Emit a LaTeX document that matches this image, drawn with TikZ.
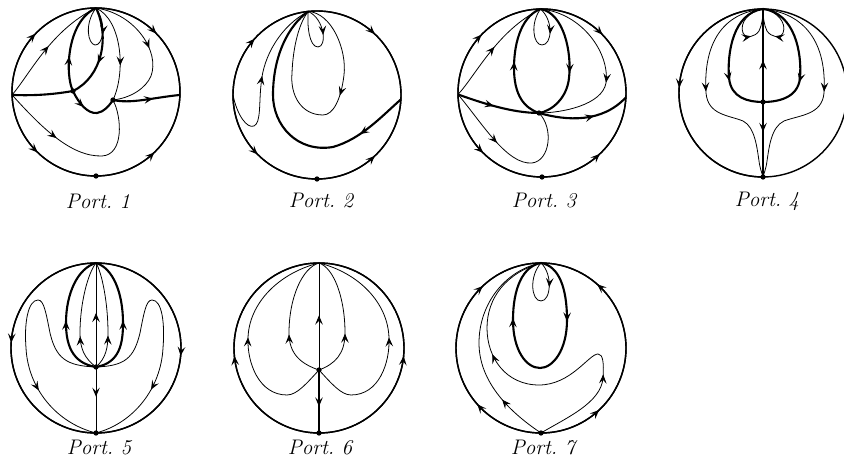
\documentclass[tikz,border=0pt]{standalone}
\usetikzlibrary{arrows.meta,decorations.markings}
\begin{document}
\begin{tikzpicture}[
  x=0.02cm, y=0.02cm,
  line join=round,
  bnd/.style={line width=0.8pt},
  orb/.style={line width=0.45pt},
  sep/.style={line width=1.2pt},
  flow/.style={postaction={decorate,decoration={markings,
    mark=at position #1 with {\arrow{Stealth[length=5.2pt,width=4.3pt,inset=2.1pt]}}}}},
  lbl/.style={font=\fontsize{12}{14}\selectfont\itshape},
]
\useasboundingbox (0,0) rectangle (844,465);

% ── the discs and the labels ──────────────────────────────────────────────
\foreach \cx/\cy/\r in {96/373/84, 317/370/84, 542/372/84, 763/372/84,
                        96/117/85, 319/117/85, 541/117/85}
  { \draw[bnd] (\cx,\cy) circle[radius=\r]; }
\foreach \n/\lx/\ly in {1/98/264, 2/321/264, 3/544/264, 4/767/264,
                        5/99/17, 6/320/17, 7/543/17}
  { \node[lbl] (L\n) at (\lx,\ly) {Port.\ \n}; }

% ── Port. 1 ───────────────────────────────────────────────────────────────
\begin{scope}[shift={(96,373)}]
  \coordinate (N1) at (90:84);  \coordinate (S1) at (270:84);
  \coordinate (W1) at (182:84); \coordinate (E1) at (-2:84);
  \coordinate (A1) at (-23,1);  \coordinate (B1) at (17,-8);
  \draw[bnd,flow=0.5] (W1) arc[start angle=182,end angle=90,radius=84];
  \draw[bnd,flow=0.5] (N1) arc[start angle=90,end angle=-2,radius=84];
  \draw[bnd,flow=0.5] (W1) arc[start angle=182,end angle=270,radius=84];
  \draw[bnd,flow=0.5] (S1) arc[start angle=270,end angle=358,radius=84];
  \draw[orb,flow=0.33] (N1) .. controls (12,66) and (6,46) .. (-1,47) .. controls (-8,48) and (-12,68) .. (N1);
  \draw[sep,flow=0.38] (A1) .. controls (-31,16) and (-30,70) .. (N1);
  \draw[sep,flow=0.35] (A1) .. controls (-17,-12) and (-8,-22) .. (1,-21) .. controls (8,-20) and (13,-14) .. (B1);
  \draw[sep] (W1) .. controls (-60,-4) and (-40,-2) .. (A1);
  \draw[sep,flow=0.6] (N1) .. controls (14,55) and (6,15) .. (A1);
  \draw[orb,flow=0.65] (N1) .. controls (26,72) and (30,20) .. (B1);
  \draw[orb,flow=0.48] (N1) .. controls (40,78) and (64,40) .. (55,16) .. controls (50,4) and (35,-6) .. (B1);
  \draw[sep,flow=0.6] (B1) .. controls (35,-12) and (55,-6) .. (E1);
  \draw[orb,flow=0.5] (W1) .. controls (-66,18) and (-45,62) .. (N1);
  \draw[orb,flow=0.35] (W1) .. controls (-55,-35) and (-25,-65) .. (6,-64) .. controls (28,-63) and (26,-25) .. (B1);
  \foreach \p in {A1,B1,S1} { \fill (\p) circle[radius=1.5pt]; }
\end{scope}

% ── Port. 2 ───────────────────────────────────────────────────────────────
\begin{scope}[shift={(317,370)}]
  \coordinate (N2) at (96:84);  \coordinate (S2) at (270:84);
  \coordinate (W2) at (180:84); \coordinate (E2) at (-3:84);
  \draw[bnd,flow=0.5] (W2) arc[start angle=180,end angle=96,radius=84];
  \draw[bnd,flow=0.5] (N2) arc[start angle=96,end angle=-3,radius=84];
  \draw[bnd,flow=0.5] (W2) arc[start angle=180,end angle=270,radius=84];
  \draw[bnd,flow=0.5] (S2) arc[start angle=270,end angle=357,radius=84];
  \draw[orb,flow=0.35] (N2) .. controls (8,76) and (10,48) .. (1,48) .. controls (-8,48) and (-10,70) .. (N2);
  \draw[orb,flow=0.4] (N2) .. controls (15,82) and (30,45) .. (27,20) .. controls (24,-5) and (16,-20) .. (6,-20)
    .. controls (-16,-20) and (-27,0) .. (-25,22) .. controls (-24,48) and (-18,72) .. (N2);
  \draw[sep,flow=0.2] (E2) .. controls (64,-22) and (44,-44) .. (16,-52) .. controls (-20,-58) and (-44,-30) .. (-44,0)
    .. controls (-44,40) and (-28,70) .. (N2);
  \draw[orb,flow=0.53] (W2) .. controls (-80,-20) and (-70,-34) .. (-63,-31) .. controls (-56,-28) and (-58,-8) .. (-56,10)
    .. controls (-54,40) and (-35,70) .. (N2);
  \fill (S2) circle[radius=1.5pt];
\end{scope}

% ── Port. 3 ───────────────────────────────────────────────────────────────
\begin{scope}[shift={(542,372)}]
  \coordinate (N3) at (91:84);  \coordinate (S3) at (270:84);
  \coordinate (W3) at (181:84); \coordinate (E3) at (-3:84);
  \coordinate (P3) at (-3,-20);
  \draw[bnd,flow=0.5] (W3) arc[start angle=181,end angle=91,radius=84];
  \draw[bnd,flow=0.5] (N3) arc[start angle=91,end angle=-3,radius=84];
  \draw[bnd,flow=0.5] (W3) arc[start angle=181,end angle=270,radius=84];
  \draw[bnd,flow=0.5] (S3) arc[start angle=270,end angle=357,radius=84];
  \draw[orb,flow=0.33] (N3) .. controls (12,72) and (10,48) .. (0,48) .. controls (-9,48) and (-12,70) .. (N3);
  \draw[sep,flow=0.58] (N3) .. controls (22,80) and (30,40) .. (27,15) .. controls (25,-5) and (10,-18) .. (P3);
  \draw[sep,flow=0.5] (P3) .. controls (-18,-15) and (-28,-2) .. (-28,25) .. controls (-28,55) and (-18,78) .. (N3);
  \draw[sep,flow=0.45] (W3) .. controls (-60,-10) and (-30,-20) .. (P3);
  \draw[sep,flow=0.6] (P3) .. controls (25,-28) and (60,-30) .. (E3);
  \draw[orb,flow=0.5] (W3) .. controls (-66,18) and (-45,62) .. (N3);
  \draw[orb,flow=0.58] (N3) .. controls (40,80) and (68,40) .. (64,10) .. controls (60,-12) and (20,-20) .. (P3);
  \draw[orb,flow=0.38] (W3) .. controls (-60,-30) and (-35,-72) .. (-10,-70) .. controls (8,-68) and (12,-35) .. (P3);
  \foreach \p in {P3,S3} { \fill (\p) circle[radius=1.5pt]; }
\end{scope}

% ── Port. 4 ───────────────────────────────────────────────────────────────
\begin{scope}[shift={(763,372)}]
  \coordinate (N4) at (90:84);  \coordinate (S4) at (270:84);
  \coordinate (M4) at (0,-9);
  \draw[bnd,flow=0.48] (N4) arc[start angle=90,end angle=270,radius=84];
  \draw[sep,flow=0.45] (M4) -- (N4);
  \draw[sep,flow=0.4] (M4) -- (S4);
  \draw[sep,flow=0.67] (N4) .. controls (-30,80) and (-36,40) .. (-34,15) .. controls (-32,-5) and (-15,-9) .. (M4);
  \draw[sep,flow=0.67] (N4) .. controls (32,80) and (39,40) .. (37,15) .. controls (35,-5) and (15,-9) .. (M4);
  \draw[orb,flow=0.58] (N4) .. controls (-14,82) and (-24,70) .. (-20,60) .. controls (-17,54) and (-8,56) .. (-4,62)
    .. controls (-1,68) and (0,76) .. (N4);
  \draw[orb,flow=0.58] (N4) .. controls (14,82) and (24,70) .. (20,60) .. controls (17,54) and (8,56) .. (4,62)
    .. controls (1,68) and (0,76) .. (N4);
  \draw[orb,flow=0.5] (N4) .. controls (-40,80) and (-60,50) .. (-57,0) .. controls (-55,-22) and (-35,-22) .. (-20,-28)
    .. controls (-8,-34) and (-6,-55) .. (-4,-68) .. controls (-3,-76) and (-1,-80) .. (S4);
  \draw[orb,flow=0.5] (N4) .. controls (42,80) and (64,50) .. (61,0) .. controls (59,-22) and (37,-22) .. (21,-28)
    .. controls (8,-34) and (6,-55) .. (4,-68) .. controls (3,-76) and (1,-80) .. (S4);
  \foreach \p in {M4,S4} { \fill (\p) circle[radius=1.5pt]; }
\end{scope}

% ── Port. 5 ───────────────────────────────────────────────────────────────
\begin{scope}[shift={(96,117)}]
  \coordinate (N5) at (90:85);  \coordinate (S5) at (270:85);
  \coordinate (M5) at (0,-19);
  \draw[bnd,flow=0.48] (N5) arc[start angle=90,end angle=270,radius=85];
  \draw[bnd,flow=0.53] (N5) arc[start angle=90,end angle=-90,radius=85];
  \draw[orb,flow=0.52] (M5) -- (N5);
  \draw[orb,flow=0.45] (M5) -- (S5);
  \draw[sep,flow=0.47] (M5) .. controls (-25,-15) and (-30,5) .. (-30,25) .. controls (-30,55) and (-18,80) .. (N5);
  \draw[sep,flow=0.47] (M5) .. controls (24,-15) and (27,5) .. (27,25) .. controls (27,55) and (17,80) .. (N5);
  \draw[orb,flow=0.32] (M5) .. controls (-12,-10) and (-16,0) .. (-16,15) .. controls (-16,45) and (-8,75) .. (N5);
  \draw[orb,flow=0.32] (M5) .. controls (10,-10) and (12,0) .. (12,15) .. controls (12,45) and (6,75) .. (N5);
  \draw[orb,flow=0.73] (M5) .. controls (-30,-18) and (-40,-10) .. (-46,15) .. controls (-50,35) and (-52,48) .. (-58,48)
    .. controls (-68,48) and (-72,25) .. (-70,0) .. controls (-68,-40) and (-40,-75) .. (S5);
  \draw[orb,flow=0.73] (M5) .. controls (29,-18) and (38,-10) .. (44,15) .. controls (48,35) and (50,48) .. (56,48)
    .. controls (66,48) and (69,25) .. (67,0) .. controls (65,-40) and (38,-75) .. (S5);
  \foreach \p in {M5,S5} { \fill (\p) circle[radius=1.5pt]; }
\end{scope}

% ── Port. 6 ───────────────────────────────────────────────────────────────
\begin{scope}[shift={(319,117)}]
  \coordinate (N6) at (90:85);  \coordinate (S6) at (270:85);
  \coordinate (M6) at (0,-22);
  \draw[bnd,flow=0.47] (S6) arc[start angle=270,end angle=90,radius=85];
  \draw[bnd,flow=0.47] (S6) arc[start angle=-90,end angle=90,radius=85];
  \draw[orb,flow=0.51] (M6) -- (N6);
  \draw[sep,flow=0.58] (M6) -- (S6);
  \draw[orb,flow=0.38] (M6) .. controls (-18,-16) and (-30,-6) .. (-30,15) .. controls (-30,50) and (-17,80) .. (N6);
  \draw[orb,flow=0.38] (M6) .. controls (16,-16) and (26,-6) .. (26,15) .. controls (26,50) and (15,80) .. (N6);
  \draw[orb,flow=0.52] (M6) .. controls (-12,-35) and (-22,-47) .. (-32,-47) .. controls (-60,-47) and (-72,-15) .. (-71,10)
    .. controls (-70,45) and (-40,75) .. (N6);
  \draw[orb,flow=0.52] (M6) .. controls (12,-35) and (22,-47) .. (32,-47) .. controls (60,-47) and (71,-15) .. (70,10)
    .. controls (69,45) and (40,75) .. (N6);
  \foreach \p in {M6,S6} { \fill (\p) circle[radius=1.5pt]; }
\end{scope}

% ── Port. 7 ───────────────────────────────────────────────────────────────
\begin{scope}[shift={(541,117)}]
  \coordinate (N7) at (90:85);  \coordinate (S7) at (270:85);
  \draw[bnd,flow=0.27,flow=0.76] (S7) arc[start angle=270,end angle=90,radius=85];
  \draw[bnd,flow=0.24,flow=0.77] (S7) arc[start angle=-90,end angle=90,radius=85];
  \draw[orb,flow=0.3] (N7) .. controls (12,74) and (10,47) .. (0,47) .. controls (-10,47) and (-12,72) .. (N7);
  \draw[sep,flow=0.27,flow=0.74] (N7) .. controls (18,82) and (26,60) .. (26,28) .. controls (26,-2) and (12,-20) .. (-1,-20)
    .. controls (-15,-20) and (-28,-2) .. (-28,28) .. controls (-28,60) and (-18,82) .. (N7);
  \draw[orb,flow=0.25,flow=0.67] (S7) .. controls (25,-70) and (60,-55) .. (62,-30) .. controls (63,-15) and (62,-6) .. (57,-6)
    .. controls (48,-6) and (30,-37) .. (-2,-37) .. controls (-35,-37) and (-54,-10) .. (-54,20)
    .. controls (-54,50) and (-35,75) .. (N7);
  \draw[orb,flow=0.23] (S7) .. controls (-30,-65) and (-62,-35) .. (-62,5) .. controls (-62,45) and (-35,78) .. (N7);
  \fill (S7) circle[radius=1.5pt];
\end{scope}

\end{tikzpicture}
\end{document}
